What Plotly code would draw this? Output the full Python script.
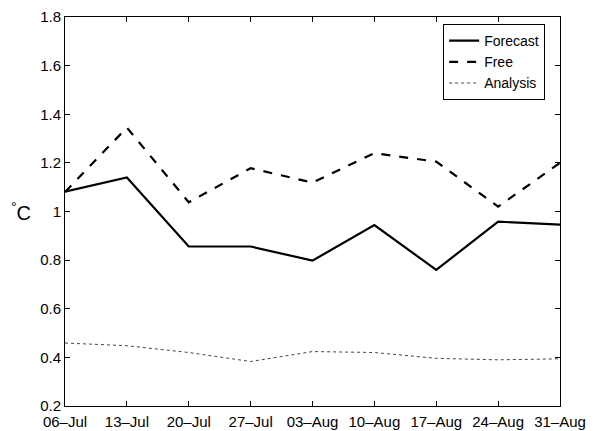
import plotly.graph_objects as go

dates = ["06–Jul", "13–Jul", "20–Jul", "27–Jul", "03–Aug", "10–Aug", "17–Aug", "24–Aug", "31–Aug"]
forecast = [1.082, 1.14, 0.856, 0.856, 0.798, 0.944, 0.76, 0.958, 0.946]
free = [1.08, 1.345, 1.038, 1.178, 1.119, 1.24, 1.205, 1.02, 1.2]
analysis = [0.459, 0.448, 0.42, 0.383, 0.424, 0.42, 0.396, 0.39, 0.394]
yticks = [0.2, 0.4, 0.6, 0.8, 1.0, 1.2, 1.4, 1.6, 1.8]
ytick_text = ["0.2", "0.4", "0.6", "0.8", "1", "1.2", "1.4", "1.6", "1.8"]

xi = list(range(len(dates)))

fig = go.Figure()
fig.add_trace(go.Scatter(x=xi, y=forecast, mode="lines", name="Forecast",
                         line=dict(color="black", width=2.2)))
fig.add_trace(go.Scatter(x=xi, y=free, mode="lines", name="Free",
                         line=dict(color="black", width=2.2, dash="dash")))
fig.add_trace(go.Scatter(x=xi, y=analysis, mode="lines", name="Analysis",
                         line=dict(color="#444444", width=1, dash="dot")))

fam = "Liberation Sans, Arial, Helvetica, sans-serif"
font = dict(family=fam, size=15, color="black")

fig.update_layout(
    width=601, height=431,
    margin=dict(l=65, r=41, t=17, b=25),
    paper_bgcolor="white", plot_bgcolor="white",
    font=font,
    showlegend=True,
    legend=dict(x=0.97, y=0.982, xanchor="right", yanchor="top",
                bgcolor="white", bordercolor="black", borderwidth=1,
                font=dict(family=fam, size=14, color="black"),
                tracegroupgap=0, itemwidth=30),
    xaxis=dict(range=[0, 8], tickvals=xi, ticktext=dates,
               showgrid=False, zeroline=False, automargin=False,
               showline=True, linecolor="black", linewidth=1, mirror="ticks",
               ticks="inside", ticklen=5, tickcolor="black",
               ticklabelstandoff=2,
               tickfont=dict(size=15)),
    yaxis=dict(range=[0.2, 1.8], tickvals=yticks, ticktext=ytick_text,
               showgrid=False, zeroline=False, automargin=False,
               showline=True, linecolor="black", linewidth=1, mirror="ticks",
               ticks="inside", ticklen=5, tickcolor="black",
               tickfont=dict(size=15)),
    annotations=[dict(text="<sup>°</sup>C", xref="paper", yref="paper",
                      x=-0.065, y=0.5, xanchor="right", yanchor="middle",
                      showarrow=False, font=dict(size=20))],
)

fig.write_html("out.html")
